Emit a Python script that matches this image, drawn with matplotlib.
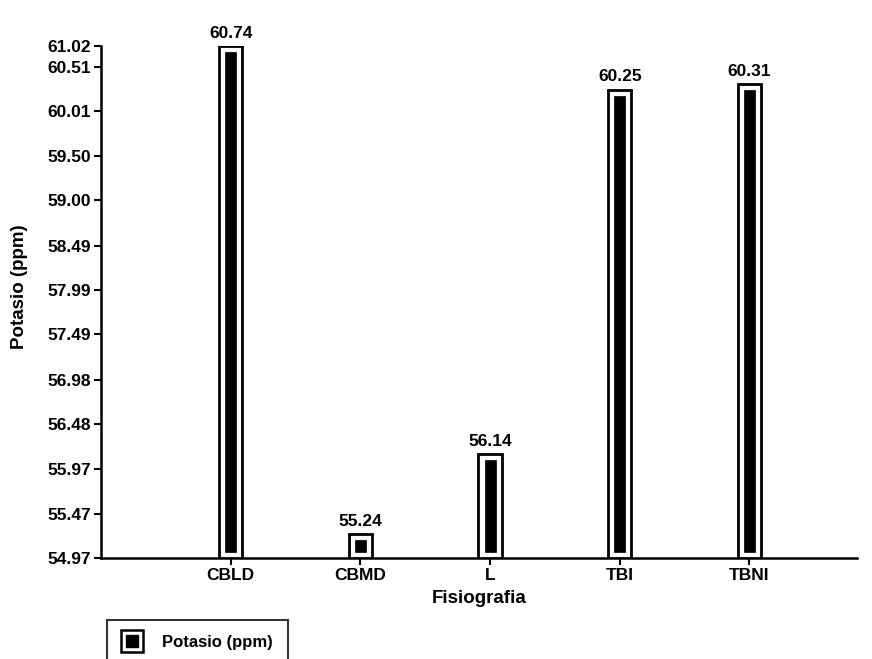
import matplotlib
matplotlib.use("Agg")
import matplotlib.pyplot as plt
from matplotlib.lines import Line2D
from matplotlib.legend_handler import HandlerTuple

plt.rcParams['font.family'] = ['Liberation Sans', 'DejaVu Sans']

# donnees
categorias = ["CBLD", "CBMD", "L", "TBI", "TBNI"]
potasio = [60.74, 55.24, 56.14, 60.25, 60.31]
etiquetas = ["60.74", "55.24", "56.14", "60.25", "60.31"]

y_min = 54.97
y_max = 60.74
ticks_y = [54.97, 55.47, 55.97, 56.48, 56.98, 57.49, 57.99, 58.49,
           59.00, 59.50, 60.01, 60.51, 60.74]
ticks_y_lbl = ["54.97", "55.47", "55.97", "56.48", "56.98", "57.49", "57.99",
               "58.49", "59.00", "59.50", "60.01", "60.51", "61.02"]

fig = plt.figure(figsize=(8.72, 6.59), dpi=100)
ax = fig.add_axes([0.1158, 0.1533, 0.867, 0.7767])

x = list(range(len(categorias)))
marge = 0.068  # espace blanc entre le cadre et la barre noire

# cadre exterieur
ax.bar(x, [v - y_min for v in potasio], bottom=y_min, width=0.18,
       color='white', edgecolor='black', linewidth=2, zorder=3)
# barre interieure
ax.bar(x, [v - y_min - 2 * marge for v in potasio], bottom=y_min + marge,
       width=0.085, color='black', edgecolor='black', linewidth=0.5, zorder=4)

for xi, v, t in zip(x, potasio, etiquetas):
    ax.text(xi, v + 0.06, t, ha='center', va='bottom', fontsize=12.5,
            fontweight='bold')

ax.set_xlim(-1, 4.83)
ax.set_ylim(y_min, y_max)
ax.set_xticks(x)
ax.set_xticklabels(categorias, fontsize=12.5, fontweight='bold')
ax.set_yticks(ticks_y)
ax.set_yticklabels(ticks_y_lbl, fontsize=12.5, fontweight='bold')

ax.spines['top'].set_visible(False)
ax.spines['right'].set_visible(False)
ax.spines['left'].set_linewidth(1.8)
ax.spines['bottom'].set_linewidth(1.8)
ax.tick_params(axis='both', direction='out', length=5, width=1.5, pad=2)

ax.set_ylabel("Potasio (ppm)", fontsize=13.5, fontweight='bold')
ax.yaxis.set_label_coords(-0.097, 0.53)
ax.set_xlabel("Fisiografia", fontsize=13.5, fontweight='bold', labelpad=5)

# symbole de legende : carre blanc borde de noir avec carre noir dedans
h_cadre = Line2D([], [], linestyle='none', marker='s', markersize=16,
                 markerfacecolor='white', markeredgecolor='black',
                 markeredgewidth=1.8)
h_plein = Line2D([], [], linestyle='none', marker='s', markersize=9,
                 markerfacecolor='black', markeredgecolor='black')
leg = fig.legend([(h_cadre, h_plein)], ["Potasio (ppm)"], loc='upper left',
                 bbox_to_anchor=(107 / 872, 1 - 620 / 659), borderaxespad=0,
                 frameon=True, fancybox=False, edgecolor='black',
                 prop={'weight': 'bold', 'size': 12}, handlelength=1.2,
                 handletextpad=1.2, borderpad=0.9,
                 handler_map={tuple: HandlerTuple(ndivide=1)})
leg.get_frame().set_linewidth(1.5)

fig.savefig("out.png", dpi=100)
